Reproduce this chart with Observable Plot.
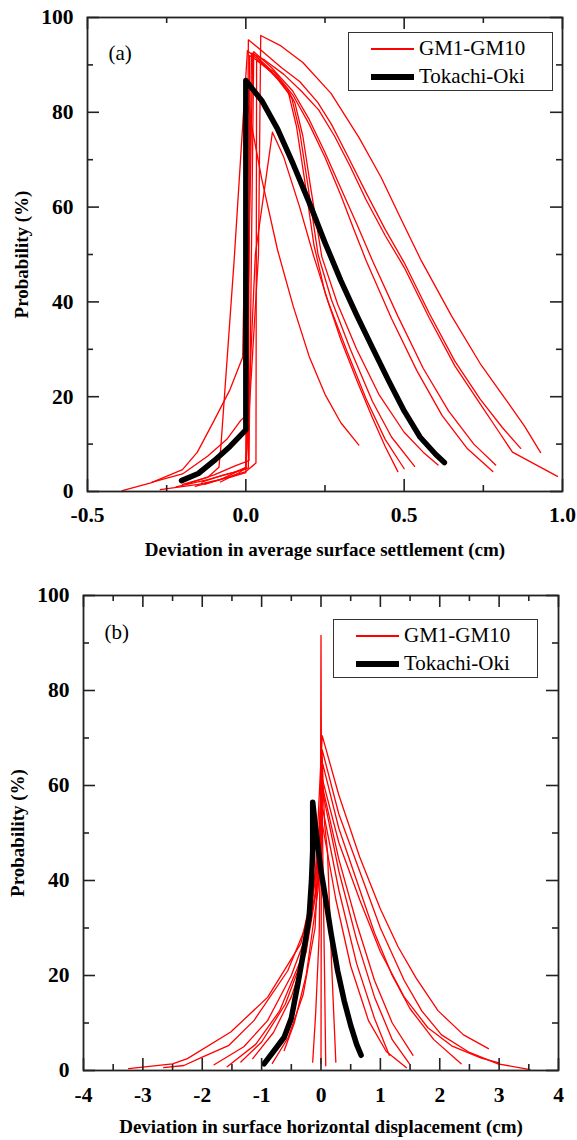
<!DOCTYPE html>
<html><head><meta charset="utf-8">
<script src="https://cdn.jsdelivr.net/npm/d3@7"></script>
<script src="https://cdn.jsdelivr.net/npm/@observablehq/plot@0.6"></script>
<style>
body{margin:0;background:#fff;}
#wrap{position:relative;width:577px;}
.panel{position:relative;width:577px;height:570px;}
.panel svg{display:block;}
.legend{position:absolute;width:205px;height:59px;border:1.5px solid #333;background:#fff;box-sizing:border-box;font-family:"Liberation Serif","Times New Roman",serif;font-size:21px;color:#000;}
.legend .ln{position:absolute;left:22px;width:43px;}
.legend .tx{position:absolute;left:70px;line-height:24px;white-space:nowrap;}
</style></head>
<body><div id="wrap"><div class="panel" id="pa"></div><div class="panel" id="pb"></div></div>
<script>
// ---------- Panel (a): deviation in average surface settlement (cm) vs probability (%) ----------
const a_GM1 = [[-0.39,0.2],[-0.3,1.8],[-0.2,4.6],[-0.153,8.3],[-0.1,15],[-0.05,21.5],[-0.01,28.3],[0.005,81.9],[0.05,66],[0.1,51],[0.15,39],[0.2,28.5],[0.25,20.5],[0.3,14.5],[0.357,9.8]];
const a_GM2 = [[-0.2,1.5],[-0.12,3],[-0.085,5.1],[-0.079,9.3],[-0.037,48.7],[0.005,93],[0.05,90.5],[0.1,87],[0.135,84],[0.16,77],[0.185,66],[0.215,52],[0.25,42],[0.3,32],[0.35,23.5],[0.4,15.5],[0.44,9.5],[0.48,4.2]];
const a_GM3 = [[-0.295,2.0],[-0.2,3.7],[-0.12,7.5],[-0.06,11],[-0.016,15],[0.0,16],[0.022,92.5],[0.07,89.5],[0.115,86],[0.145,83],[0.17,76],[0.195,65],[0.228,50],[0.27,40.5],[0.33,30],[0.4,19],[0.46,11.5],[0.533,5.3]];
const a_GM4 = [[-0.13,1.5],[-0.06,3],[0.0,4.2],[0.032,6],[0.034,91],[0.09,88],[0.13,85],[0.155,82],[0.18,75],[0.205,64],[0.24,49.5],[0.29,39.5],[0.35,30],[0.42,20.5],[0.5,12.5],[0.56,8.3],[0.607,5.6]];
const a_GM5 = [[-0.08,2],[-0.02,4],[0.0,5],[0.03,50],[0.084,75.8],[0.12,70.5],[0.17,60],[0.215,49.5],[0.26,40],[0.32,29.5],[0.38,19.5],[0.44,11],[0.5,4.8]];
const a_GM6 = [[-0.16,1.1],[-0.08,2.5],[0.0,5.1],[0.04,50],[0.047,96.2],[0.111,94],[0.18,90.5],[0.269,84],[0.357,74.7],[0.427,66.3],[0.49,57.5],[0.554,48.7],[0.65,37],[0.74,27],[0.82,19.5],[0.88,13.8],[0.931,8.2]];
const a_GM7 = [[-0.27,0.4],[-0.15,1.5],[-0.05,3],[0.0,4],[0.008,95.3],[0.05,93],[0.111,89.5],[0.17,86.5],[0.227,82.1],[0.27,77.5],[0.32,71],[0.38,63],[0.44,55.3],[0.5,48.3],[0.58,37.5],[0.66,27.5],[0.74,19.5],[0.81,13.5],[0.868,9.1]];
const a_GM8 = [[-0.22,1.0],[-0.12,2.5],[-0.04,4],[0.0,5],[0.018,92.5],[0.06,91],[0.12,88],[0.175,84.5],[0.23,80.5],[0.28,75],[0.33,68.5],[0.38,61.5],[0.44,54],[0.5,47.3],[0.58,36.5],[0.66,26.5],[0.74,18.5],[0.8,12.5],[0.842,8.3],[0.984,3.2]];
const a_GM9 = [[-0.19,1.5],[-0.1,3.5],[-0.03,5.5],[0.01,6.5],[0.025,92.8],[0.08,89.5],[0.148,84.5],[0.2,78.5],[0.25,71.5],[0.3,64],[0.35,56.5],[0.4,48.7],[0.48,37],[0.56,26],[0.64,17],[0.72,10],[0.789,5.6]];
const a_GM10 = [[-0.14,2],[-0.07,3.5],[-0.01,4.5],[0.008,5],[0.012,92],[0.09,88.5],[0.15,83.5],[0.2,77.5],[0.25,70.5],[0.3,62.5],[0.34,55.5],[0.38,48.7],[0.46,36.5],[0.54,25.5],[0.62,16],[0.7,9],[0.78,4.2]];
const a_Tokachi = [[-0.203,2.3],[-0.15,3.8],[-0.1,6.5],[-0.05,9.5],[0,13],[0,86.7],[0.05,82.5],[0.1,76.5],[0.15,69],[0.2,61],[0.25,52.5],[0.3,44.5],[0.35,37.2],[0.4,30.3],[0.45,23.5],[0.5,17],[0.55,11.5],[0.6,7.8],[0.627,6.1]];
const a_xMajor = [-0.5, 0, 0.5, 1.0];
const a_xMinor = [-0.25, 0.25, 0.75];
const a_xTitle = "Deviation in average surface settlement (cm)";

// ---------- Panel (b): deviation in surface horizontal displacement (cm) vs probability (%) ----------
const b_GM1 = [[-3.24,0.4],[-2.5,1.4],[-2.25,2.5],[-1.52,8.1],[-0.9,15.4],[-0.34,26.7],[-0.1,40],[0.02,70.5],[0.3,58],[0.65,45],[1.0,34],[1.3,26],[1.6,19.5],[1.97,12.6],[2.4,7.5],[2.82,4.6]];
const b_GM2 = [[-2.65,0.6],[-2.31,1.05],[-2.0,2.8],[-1.55,5.3],[-1.13,10.5],[-0.56,21],[-0.2,32],[-0.03,48],[0.02,67.5],[0.3,54],[0.65,42],[1.0,30],[1.4,19],[1.7,12.5],[2.03,7.5],[2.5,3.8],[2.98,1.4],[3.52,0.2]];
const b_GM3 = [[-1.8,1.2],[-1.3,5],[-0.9,10.5],[-0.5,20],[-0.2,30],[-0.05,45],[0.03,64.5],[0.3,51],[0.6,40],[0.9,29],[1.2,20],[1.5,13],[1.9,6.5],[2.36,1.4]];
const b_GM4 = [[-1.58,0.8],[-1.1,5.5],[-0.7,12.5],[-0.35,23],[-0.1,37],[0.02,61.5],[0.3,48],[0.65,36],[1.0,25],[1.4,15.5],[1.8,9],[2.2,5.2],[2.7,2.6],[3.0,1.6]];
const b_GM5 = [[-1.35,1.8],[-1.0,6],[-0.6,14],[-0.3,24],[-0.08,38],[0.03,58.5],[0.3,42],[0.6,27.5],[0.9,15.5],[1.2,6.5],[1.49,1.4]];
const b_GM6 = [[-1.15,2.5],[-0.8,8],[-0.5,15.5],[-0.25,25],[-0.05,40],[0.03,55],[0.3,38],[0.6,22.5],[0.9,11],[1.15,3.2]];
const b_GM7 = [[-0.82,1.5],[-0.55,7],[-0.3,16],[-0.1,30],[0.02,60],[0.3,44.5],[0.6,31],[0.9,19],[1.2,10],[1.55,3.2]];
const b_GM8 = [[-0.62,4.2],[-0.45,10],[-0.25,20],[-0.05,38],[0.02,52],[0.25,36],[0.5,22],[0.8,10.5],[1.1,4],[1.44,0.6]];
const b_GM9 = [[-0.14,1.75],[-0.09,12],[-0.03,28.8],[-0.01,50],[0,91.6],[0.005,71],[0.03,46],[0.06,20],[0.08,1]];
const b_GM10 = [[0,1.4],[0.005,40],[0.02,66],[0.06,52],[0.11,46],[0.18,22],[0.25,1.75]];
const b_Tokachi = [[-0.96,1.4],[-0.8,4],[-0.62,7],[-0.5,11],[-0.39,18.2],[-0.3,24.5],[-0.2,32.3],[-0.16,40],[-0.14,46.3],[-0.14,56.5],[-0.1,52],[-0.05,47],[0,42],[0.08,36],[0.17,28.8],[0.28,21],[0.39,14.7],[0.5,9.5],[0.6,5.5],[0.676,3.2]];
const b_xMajor = [-4, -3, -2, -1, 0, 1, 2, 3, 4];
const b_xMinor = [-3.5, -2.5, -1.5, -0.5, 0.5, 1.5, 2.5, 3.5];
const b_xTitle = "Deviation in surface horizontal displacement (cm)";

// shared
const yMajor = [0, 20, 40, 60, 80, 100];
const yMinor = [10, 30, 50, 70, 90];
const yTitle = "Probability (%)";
const legendLabels = ["GM1-GM10", "Tokachi-Oki"];

const FONT = '"Liberation Serif","Times New Roman",Times,serif';

function panel(o) {
  const rows = [];
  o.series.forEach((s, i) => s.forEach(([x, y]) => rows.push({x, y, id: "GM" + (i + 1)})));
  const blackRows = o.black.map(([x, y]) => ({x, y}));
  const W = 577, H = 570;
  const innerW = W - o.m.left - o.m.right;
  const innerH = H - o.m.top - o.m.bottom;
  const MJ = 12, MN = 6;
  const tk = {stroke: "#222", strokeWidth: 1.6};
  const lab = {fontSize: 21.5, fontWeight: "bold", fill: "#000"};
  return Plot.plot({
    width: W, height: H,
    marginTop: o.m.top, marginBottom: o.m.bottom, marginLeft: o.m.left, marginRight: o.m.right,
    x: {domain: o.xDomain, axis: null},
    y: {domain: [0, 100], axis: null},
    style: {fontFamily: FONT, background: "white", overflow: "visible"},
    marks: [
      Plot.line(rows, {x: "x", y: "y", z: "id", stroke: "#ff0000", strokeWidth: 1.3}),
      Plot.line(blackRows, {x: "x", y: "y", stroke: "#000", strokeWidth: 5.5}),
      Plot.frame({stroke: "#222", strokeWidth: 1.8}),
      Plot.tickX(o.xMajor, {x: d => d, insetTop: innerH - MJ, ...tk}),
      Plot.tickX(o.xMajor, {x: d => d, insetBottom: innerH - MJ, ...tk}),
      Plot.tickX(o.xMinor, {x: d => d, insetTop: innerH - MN, ...tk}),
      Plot.tickX(o.xMinor, {x: d => d, insetBottom: innerH - MN, ...tk}),
      Plot.tickY(yMajor, {y: d => d, insetRight: innerW - MJ, ...tk}),
      Plot.tickY(yMajor, {y: d => d, insetLeft: innerW - MJ, ...tk}),
      Plot.tickY(yMinor, {y: d => d, insetRight: innerW - MN, ...tk}),
      Plot.tickY(yMinor, {y: d => d, insetLeft: innerW - MN, ...tk}),
      Plot.text(o.xMajor, {x: d => d, frameAnchor: "bottom", dy: o.tickDy, lineAnchor: "middle", textAnchor: "middle", text: o.xFmt, ...lab}),
      Plot.text(yMajor, {y: d => d, frameAnchor: "left", dx: -14, textAnchor: "end", lineAnchor: "middle", text: d => String(d), ...lab}),
      Plot.text([o.xTitle], {frameAnchor: "bottom", dy: o.xTitleDy, lineAnchor: "middle", textAnchor: "middle", text: d => d, fontSize: 19, fontWeight: "bold", fill: "#000"}),
      Plot.text([yTitle], {frameAnchor: "left", dx: -66, rotate: -90, textAnchor: "middle", lineAnchor: "middle", text: d => d, fontSize: 19, fontWeight: "bold", fill: "#000"}),
      Plot.text([o.tag], {frameAnchor: "top-left", dx: 21, dy: o.tagDy, textAnchor: "start", lineAnchor: "middle", text: d => d, fontSize: 21, fill: "#000"})
    ]
  });
}

function legend(container, left, top) {
  const box = document.createElement("div");
  box.className = "legend";
  box.style.left = left + "px";
  box.style.top = top + "px";
  const items = [{c: "#ff0000", w: 1.5, y: 16}, {c: "#000", w: 5.5, y: 44}];
  items.forEach((it, i) => {
    const ln = document.createElement("div");
    ln.className = "ln";
    ln.style.top = (it.y - it.w / 2) + "px";
    ln.style.height = it.w + "px";
    ln.style.background = it.c;
    box.appendChild(ln);
    const tx = document.createElement("div");
    tx.className = "tx";
    tx.style.top = (it.y - 13) + "px";
    tx.textContent = legendLabels[i];
    box.appendChild(tx);
  });
  container.appendChild(box);
}

const pa = document.getElementById("pa");
pa.appendChild(panel({
  series: [a_GM1, a_GM2, a_GM3, a_GM4, a_GM5, a_GM6, a_GM7, a_GM8, a_GM9, a_GM10],
  black: a_Tokachi, xDomain: [-0.5, 1.0], xMajor: a_xMajor, xMinor: a_xMinor,
  xFmt: d => d.toFixed(1), xTitle: a_xTitle, xTitleDy: 58, tickDy: 24, tag: "(a)", tagDy: 36,
  m: {top: 17, bottom: 79, left: 87, right: 15}
}));
legend(pa, 348, 32);

const pb = document.getElementById("pb");
pb.appendChild(panel({
  series: [b_GM1, b_GM2, b_GM3, b_GM4, b_GM5, b_GM6, b_GM7, b_GM8, b_GM9, b_GM10],
  black: b_Tokachi, xDomain: [-4, 4], xMajor: b_xMajor, xMinor: b_xMinor,
  xFmt: d => String(d), xTitle: b_xTitle, xTitleDy: 56, tickDy: 25, tag: "(b)", tagDy: 37,
  m: {top: 25, bottom: 70, left: 83, right: 19}
}));
legend(pb, 333, 49);
</script></body></html>
